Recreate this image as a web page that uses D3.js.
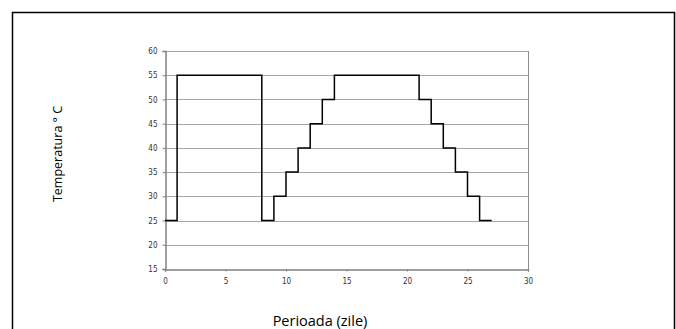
<!DOCTYPE html>
<html><head><meta charset="utf-8">
<script src="https://cdn.jsdelivr.net/npm/d3@7"></script>
<style>
body{margin:0;background:#fff;}
svg{display:block;}
</style></head>
<body><svg id="c" width="676" height="329"></svg>
<script>
const days =  [0, 1, 1, 8, 8, 9, 9,10,10,11,11,12,12,13,13,14,14,21,21,22,22,23,23,24,24,25,25,26,26,27];
const temps = [25,25,55,55,25,25,30,30,35,35,40,40,45,45,50,50,55,55,50,50,45,45,40,40,35,35,30,30,25,25];
const xTicks = [0,5,10,15,20,25,30];
const yTicks = [15,20,25,30,35,40,45,50,55,60];
const xTitle = "Perioada (zile)";
const yTitle = "Temperatura ° C";

const svg = d3.select("#c");
// outer frame
svg.append("path").attr("d","M12.5,340V12.5H674.5V340").attr("fill","none").attr("stroke","#000").attr("stroke-width",1.5);

const L=165, R=528, T=51, B=269;
const x = d3.scaleLinear().domain([0,30]).range([L,R]);
const y = d3.scaleLinear().domain([15,60]).range([B,T]);

// gridlines
svg.append("g").selectAll("line").data(yTicks.slice(1)).join("line")
  .attr("x1",L).attr("x2",R).attr("y1",d=>Math.round(y(d))+0.5).attr("y2",d=>Math.round(y(d))+0.5)
  .attr("stroke","#a6a6a6").attr("stroke-width",1);
// right border
svg.append("line").attr("x1",R+0.5).attr("x2",R+0.5).attr("y1",T).attr("y2",B).attr("stroke","#8c8c8c");

const fontTick = "'Liberation Sans Narrow','DejaVu Sans Condensed',sans-serif";
const yAxis = svg.append("g").attr("transform",`translate(${L+0.5},0)`)
  .call(d3.axisLeft(y).tickValues(yTicks).tickSize(3).tickPadding(5).tickFormat(d3.format("d")));
const xAxis = svg.append("g").attr("transform",`translate(0,${B+0.5})`)
  .call(d3.axisBottom(x).tickValues(xTicks).tickSize(2).tickPadding(5).tickFormat(d3.format("d")));
[yAxis,xAxis].forEach(a=>{
  a.select(".domain").attr("stroke","#808080").attr("stroke-width",1.5);
  a.selectAll(".tick line").attr("stroke","#808080");
  a.selectAll("text").attr("fill","#333").style("font-family",fontTick).style("font-size","8px");
});
xAxis.selectAll("text").attr("dy","0.9em");

// line
svg.append("path").datum(days.map((d,i)=>[d,temps[i]]))
  .attr("d",d3.line().x(d=>x(d[0])).y(d=>y(d[1])))
  .attr("fill","none").attr("stroke","#000").attr("stroke-width",1.5);

// titles
svg.append("text").attr("x",320).attr("y",326).attr("text-anchor","middle")
  .style("font-family","'Open Sans',sans-serif").style("font-size","14.5px").attr("fill","#000").text(xTitle);
svg.append("text").attr("transform","translate(62,154) rotate(-90)").attr("text-anchor","middle")
  .style("font-family","'Open Sans',sans-serif").style("font-size","12.5px").attr("fill","#000").text(yTitle);
</script></body></html>
